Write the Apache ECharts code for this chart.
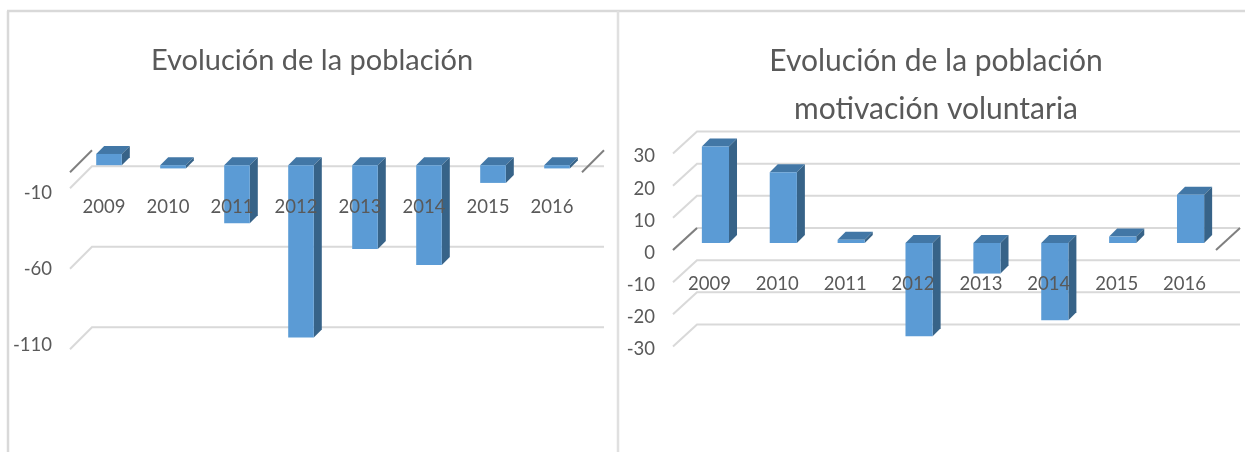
<!DOCTYPE html>
<html>
<head>
<meta charset="utf-8">
<style>html,body{margin:0;padding:0;background:#fff}#c{width:1245px;height:452px}</style>
<script src="https://cdn.jsdelivr.net/npm/echarts@6/dist/echarts.min.js"></script>
</head>
<body>
<div id="c"></div>
<script>
var years = ['2009','2010','2011','2012','2013','2014','2015','2016'];
var leftValues = [7,-2,-36,-107,-52,-62,-11,-2];
var rightValues = [30,22,1,-29,-9.5,-24,2,15];
var leftTicks = [-10,-60,-110];
var rightTicks = [30,20,10,0,-10,-20,-30];
var leftTitle = 'Evolución de la población';
var rightTitle = 'Evolución de la población\nmotivación voluntaria';

var FONT = 'Lato, "Open Sans", sans-serif';
var TEXT = '#595959', GRIDC = '#d9d9d9', FLOORC = '#7f7f7f';
var FRONT = '#5b9bd5', TOP = '#4277a6', SIDE = '#376388';

function gridSeries(axisIdx, ticks, dx, dy) {
  return {
    type: 'custom', xAxisIndex: axisIdx, yAxisIndex: axisIdx, silent: true, clip: false, z: 1,
    data: ticks.map(function (t) { return [0, t]; }),
    renderItem: function (params, api) {
      var v = api.value(1), y = api.coord([0, v])[1];
      var x0 = params.coordSys.x, x1 = x0 + params.coordSys.width;
      var style = { stroke: GRIDC, lineWidth: 2, fill: null };
      return { type: 'polyline', shape: { points: [[x0, y], [x0 + dx, y - dy], [x1 + dx, y - dy]] }, style: style };
    }
  };
}
function floorSeries(axisIdx, dx, dy) {
  return {
    type: 'custom', xAxisIndex: axisIdx, yAxisIndex: axisIdx, silent: true, clip: false, z: 2,
    data: [[0, 0]],
    renderItem: function (params, api) {
      var y = api.coord([0, 0])[1];
      var x0 = params.coordSys.x, x1 = x0 + params.coordSys.width;
      var s = { stroke: FLOORC, lineWidth: 2, fill: null };
      return { type: 'group', children: [
        { type: 'line', shape: { x1: x0, y1: y, x2: x0 + dx, y2: y - dy }, style: s },
        { type: 'line', shape: { x1: x1, y1: y, x2: x1 + dx, y2: y - dy }, style: s }
      ] };
    }
  };
}
function barSeries(axisIdx, values, ox, oy) {
  return {
    type: 'custom', xAxisIndex: axisIdx, yAxisIndex: axisIdx, silent: true, clip: false, z: 3,
    data: values.map(function (v, i) { return [i, v]; }),
    renderItem: function (params, api) {
      var i = api.value(0), v = api.value(1);
      var pv = api.coord([i, v]), p0 = api.coord([i, 0]);
      var w = api.size([1, 0])[0] * 0.4, d = 8;
      var l = pv[0] - w / 2 + ox, r = l + w;
      var t = Math.min(pv[1], p0[1]) + oy, b = Math.max(pv[1], p0[1]) + oy;
      return { type: 'group', children: [
        { type: 'polygon', shape: { points: [[l, t], [r, t], [r + d, t - d], [l + d, t - d]] }, style: { fill: TOP } },
        { type: 'polygon', shape: { points: [[r, t], [r + d, t - d], [r + d, b - d], [r, b]] }, style: { fill: SIDE } },
        { type: 'rect', shape: { x: l, y: t, width: w, height: b - t }, style: { fill: FRONT } }
      ] };
    }
  };
}
function xAxisOf(gridIndex, pad, offset, margin) {
  return {
    type: 'category', gridIndex: gridIndex, data: years, z: 10, position: 'bottom', offset: offset,
    axisLine: { show: false, onZero: false }, axisTick: { show: false }, splitLine: { show: false },
    axisLabel: { show: true, interval: 0, margin: margin, padding: [0, 0, 0, pad], color: TEXT, fontFamily: FONT, fontSize: 18.5 }
  };
}
function yAxisOf(gridIndex, min, max, ticks, labelled) {
  return {
    type: 'value', gridIndex: gridIndex, min: min, max: max, position: 'left',
    axisLine: { show: false }, axisTick: { show: false }, splitLine: { show: false },
    axisLabel: { show: labelled, customValues: ticks, margin: 18, color: TEXT, fontFamily: FONT, fontSize: 18.5 }
  };
}
function titleOf(text, cx, size) {
  return {
    text: text, left: cx, top: 32, textAlign: 'center',
    textStyle: { color: TEXT, fontFamily: FONT, fontSize: size, fontWeight: 'normal', lineHeight: 48 }
  };
}

var chart = echarts.init(document.getElementById('c'), null, { renderer: 'canvas' });
chart.setOption({
  backgroundColor: '#ffffff',
  animation: false,
  title: [titleOf(leftTitle, 307, 29), titleOf(rightTitle, 931, 30)],
  grid: [
    { left: 70, top: 140, width: 512, height: 241.5 },
    { left: 673, top: 121.3, width: 543, height: 257.4 }
  ],
  xAxis: [xAxisOf(0, 4, -209.5, 26), xAxisOf(1, 5, -128.7, 25)],
  yAxis: [
    yAxisOf(0, -130, 20, leftTicks, false),
    yAxisOf(1, -40, 40, rightTicks, false),
    yAxisOf(0, -134, 24.87, leftTicks, true),
    yAxisOf(1, -39.07, 40.94, rightTicks, true)
  ],
  graphic: [
    { type: 'line', silent: true, shape: { x1: 7, y1: 11, x2: 1245, y2: 11 }, style: { stroke: GRIDC, lineWidth: 2.5 } },
    { type: 'line', silent: true, shape: { x1: 8, y1: 11, x2: 8, y2: 452 }, style: { stroke: GRIDC, lineWidth: 2.5 } },
    { type: 'line', silent: true, shape: { x1: 618, y1: 11, x2: 618, y2: 452 }, style: { stroke: '#e0e0e0', lineWidth: 2.5 } }
  ],
  series: [
    gridSeries(0, leftTicks, 22, 22),
    floorSeries(0, 22, 22),
    barSeries(0, leftValues, 7, -7),
    gridSeries(1, rightTicks, 24, 22),
    floorSeries(1, 24, 22),
    barSeries(1, rightValues, 8.5, -7)
  ]
});
</script>
</body>
</html>
